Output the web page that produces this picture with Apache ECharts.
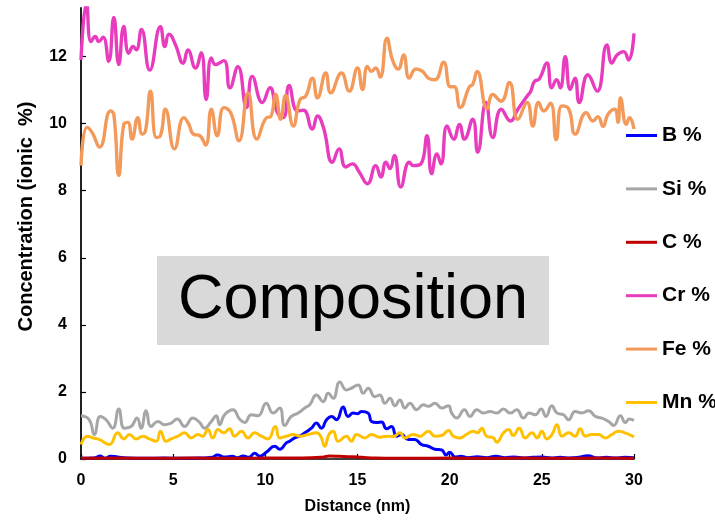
<!DOCTYPE html>
<html>
<head>
<meta charset="utf-8">
<script src="https://cdn.jsdelivr.net/npm/echarts@6/dist/echarts.min.js"></script>
<style>
  html, body { margin: 0; padding: 0; background: #fff; }
  #chart { width: 715px; height: 520px; }
</style>
</head>
<body>
<div id="chart"></div>
<script>
// ---- data ----
const seriesNames = ['B %', 'Si %', 'C %', 'Cr %', 'Fe %', 'Mn %'];
const xTicks = [0, 5, 10, 15, 20, 25, 30];
const yTicks = [0, 2, 4, 6, 8, 10, 12];

const bX = [0,0.7,1.05,1.3,1.6,2.5,3.5,4.5,5.5,6.5,7.1,7.4,7.8,8.2,8.5,8.8,9.1,9.42,9.7,10.05,10.51,10.78,11.14,11.32,11.59,11.86,12.14,12.5,12.77,13.04,13.32,13.59,13.86,14.22,14.49,14.77,15.0,15.22,15.58,15.76,16.03,16.3,16.58,16.85,17.12,17.39,17.75,18.1,18.48,18.84,19.2,19.57,19.8,20.0,20.3,20.6,21.0,21.5,22.0,22.5,23.0,23.5,24.0,24.5,25.0,25.5,26.0,26.5,27.0,27.5,28.0,28.5,29.0,29.5,30.0];
const bY = [0.02,0.03,0.09,0.02,0.08,0.03,0.02,0.03,0.02,0.03,0.05,0.12,0.06,0.08,0.04,0.09,0.05,0.17,0.08,0.2,0.38,0.29,0.48,0.53,0.63,0.68,0.78,0.92,1.07,0.92,1.17,1.27,1.17,1.55,1.27,1.37,1.35,1.42,1.37,1.12,1.09,1.1,0.9,0.97,0.68,0.73,0.58,0.58,0.43,0.38,0.29,0.27,0.12,0.2,0.06,0.08,0.04,0.07,0.04,0.08,0.04,0.06,0.03,0.05,0.06,0.03,0.05,0.03,0.05,0.1,0.03,0.05,0.03,0.05,0.04];

const siX = [0,0.45,0.72,1.05,1.36,1.72,2.05,2.35,2.72,3.04,3.26,3.53,3.8,4.17,4.53,4.89,5.22,5.62,6.07,6.43,6.7,7.07,7.34,7.52,7.79,8.24,8.6,8.88,9.24,9.6,10.05,10.42,10.78,11.05,11.41,11.78,12.14,12.41,12.77,13.14,13.41,13.68,14.04,14.4,14.67,15.04,15.31,15.58,15.94,16.21,16.49,16.76,17.03,17.3,17.57,17.84,18.21,18.57,18.84,19.2,19.57,19.93,20.11,20.38,20.8,21.1,21.47,21.83,22.19,22.55,22.92,23.28,23.64,24.0,24.31,24.64,24.96,25.22,25.54,25.82,26.18,26.45,26.81,27.17,27.54,27.9,28.26,28.62,28.9,29.26,29.53,29.74,30.0];
const siY = [1.29,1.17,0.73,1.27,1.17,0.92,1.49,0.92,0.97,1.22,0.92,1.44,0.97,1.12,1.02,1.07,1.19,0.97,1.22,1.09,0.92,1.12,1.29,1.02,1.32,1.47,1.19,1.09,1.32,1.29,1.66,1.37,1.52,1.0,1.27,1.37,1.52,1.62,1.91,1.71,1.96,1.81,2.3,2.06,2.11,2.21,1.96,2.11,1.86,1.91,1.66,1.81,1.59,1.76,1.52,1.66,1.47,1.62,1.57,1.66,1.52,1.59,1.37,1.22,1.47,1.27,1.47,1.37,1.42,1.37,1.49,1.37,1.47,1.22,1.37,1.32,1.49,1.27,1.59,1.37,1.32,1.17,1.42,1.37,1.44,1.27,1.22,1.12,1.0,1.29,1.09,1.19,1.15];

const cX = [0,2,4,6,8,10,12,13,13.5,14,14.5,15,15.5,16,18,20,22,24,26,28,30];
const cY = [0.02,0.03,0.02,0.03,0.02,0.03,0.03,0.05,0.09,0.08,0.07,0.06,0.04,0.03,0.02,0.03,0.02,0.03,0.02,0.03,0.02];

const crX = [0,0.3,0.54,0.78,0.96,1.2,1.5,1.78,2.05,2.32,2.59,2.83,3.0,3.28,3.73,4.31,4.55,4.77,5.13,5.54,5.8,6.21,6.52,6.79,7.07,7.3,7.75,8.08,8.51,8.98,9.29,9.84,10.25,10.65,10.98,11.29,11.74,12.07,12.55,12.83,13.15,13.64,14.0,14.36,14.73,15.09,15.54,15.99,16.27,16.54,16.76,17.0,17.35,17.81,18.04,18.44,18.77,19.02,19.31,19.53,19.86,20.22,20.53,20.8,21.25,21.52,21.97,22.34,22.8,23.3,23.7,24.2,24.4,24.6,24.86,25.27,25.54,25.8,26.0,26.27,26.54,26.8,27.03,27.5,28.0,28.53,28.8,29.08,29.44,29.7,30.0];
const crY = [11.9,13.6,12.45,12.6,12.45,12.58,11.86,13.17,11.76,12.9,12.1,12.3,12.2,12.81,11.6,12.89,12.3,12.67,12.35,11.8,12.2,11.66,12.12,10.72,11.96,11.76,11.88,11.07,11.7,10.48,11.41,10.63,11.07,10.33,10.18,11.14,10.38,10.4,9.84,10.23,9.89,8.85,9.25,8.71,8.8,8.56,8.21,8.75,8.41,8.85,8.66,9.05,8.11,8.85,8.75,8.8,9.64,8.51,9.1,8.8,9.93,9.54,9.98,9.54,10.13,9.15,10.63,9.59,10.43,10.08,10.43,10.82,10.97,11.26,11.33,11.81,11.07,11.31,11.07,12.0,11.02,11.36,10.63,11.46,10.97,12.35,11.81,12.05,12.15,11.9,12.69];

const feX = [0,0.33,0.6,1.01,1.6,1.78,2.05,2.32,2.54,2.77,3.08,3.32,3.5,3.77,4.09,4.31,4.58,5.07,5.58,5.85,6.09,6.45,6.76,7.07,7.39,7.75,8.12,8.57,9.06,9.54,10.07,10.29,10.56,10.83,11.1,11.52,11.88,12.19,12.55,12.83,13.28,13.55,14.13,14.55,15.0,15.27,15.54,15.76,15.99,16.23,16.6,16.9,17.21,17.5,17.81,18.17,18.53,18.84,19.2,19.67,20.04,20.25,20.58,21.07,21.25,21.49,22.03,22.34,22.79,23.24,23.7,24.2,24.51,24.82,25.11,25.47,25.78,26.09,26.45,26.81,27.41,27.77,28.04,28.32,28.59,28.95,29.13,29.27,29.58,29.76,30.0];
const feY = [8.75,9.89,9.74,9.3,10.38,10.28,8.46,9.98,10.04,9.54,10.18,9.69,9.79,10.97,9.59,9.64,10.43,9.25,10.18,9.98,9.69,9.64,9.36,10.43,9.64,10.48,10.33,9.49,10.92,9.54,10.18,10.21,10.87,10.13,10.84,9.93,10.72,10.82,11.36,10.77,11.51,10.92,11.51,10.97,11.66,11.02,11.71,11.56,11.66,11.39,12.55,11.9,11.63,12.05,11.36,11.63,11.56,11.36,11.31,11.83,11.1,11.1,10.48,11.1,11.17,11.56,10.45,10.87,10.67,11.23,10.13,10.63,9.93,10.63,10.38,10.61,9.52,10.53,10.45,9.69,10.33,10.08,10.21,9.92,10.28,10.43,10.04,10.77,9.98,10.18,9.84];

const mnX = [0,0.36,0.63,1.0,1.54,1.99,2.32,2.63,2.99,3.35,3.71,4.08,4.31,4.62,4.89,5.25,5.62,5.98,6.34,6.6,6.88,7.15,7.43,7.75,8.06,8.33,8.7,9.06,9.42,9.78,10.14,10.54,10.78,11.14,11.5,11.9,12.32,12.77,13.0,13.22,13.45,13.68,13.95,14.4,14.67,14.95,15.4,15.76,16.2,16.58,16.95,17.3,17.57,18.02,18.4,18.84,19.2,19.57,19.93,20.2,20.56,20.9,21.29,21.5,21.74,22.0,22.37,22.55,22.92,23.19,23.45,23.77,24.1,24.46,24.75,25.0,25.27,25.55,25.82,26.09,26.45,26.8,27.08,27.36,27.7,28.08,28.44,28.8,29.17,29.5,29.75,30.0];
const mnY = [0.43,0.68,0.63,0.58,0.43,0.78,0.6,0.73,0.6,0.68,0.6,0.53,0.83,0.53,0.6,0.68,0.78,0.63,0.73,0.68,0.88,0.63,0.88,0.78,0.9,0.68,0.83,0.63,0.78,0.68,0.6,0.97,0.63,0.68,0.73,0.68,0.73,0.78,0.68,0.38,0.73,0.83,0.53,0.68,0.53,0.73,0.63,0.73,0.65,0.68,0.67,0.78,0.63,0.73,0.68,0.83,0.68,0.7,0.85,0.68,0.63,0.73,0.83,0.78,0.92,0.68,0.63,0.5,0.78,0.88,0.7,0.92,0.63,0.78,0.63,0.83,0.6,0.73,1.02,0.68,0.78,0.68,0.9,0.68,0.73,0.73,0.63,0.73,0.83,0.78,0.73,0.66];

// ---- styling ----
const colors = ['#0000ff', '#a6a6a6', '#c00000', '#e83cbf', '#f39a5b', '#ffc000'];
const FONT = '"Liberation Sans", Arial, sans-serif';

function zip(xs, ys) {
  const n = Math.min(xs.length, ys.length);
  const out = [];
  for (let i = 0; i < n; i++) out.push([xs[i], ys[i]]);
  return out;
}
const seriesData = [zip(bX, bY), zip(siX, siY), zip(cX, cY), zip(crX, crY), zip(feX, feY), zip(mnX, mnY)];

const chart = echarts.init(document.getElementById('chart'), null, { renderer: 'canvas' });
chart.setOption({
  animation: false,
  backgroundColor: '#fff',
  grid: { left: 81, right: 81, top: 8, bottom: 56.5, containLabel: false },
  xAxis: {
    type: 'value', min: 0, max: 30, interval: 5,
    name: 'Distance (nm)', nameLocation: 'middle', nameGap: 40,
    nameTextStyle: { fontFamily: FONT, fontWeight: 'bold', fontSize: 16, color: '#000' },
    axisLine: { show: true, onZero: false, lineStyle: { color: '#000', width: 1.5 } },
    axisTick: { show: true, inside: true, length: 5, lineStyle: { color: '#000', width: 1.2 } },
    axisLabel: { fontFamily: FONT, fontWeight: 'bold', fontSize: 16, color: '#000', margin: 14, customValues: xTicks },
    splitLine: { show: false }
  },
  yAxis: {
    type: 'value', min: 0, max: 13.45, interval: 2,
    name: 'Concentration (ionic  %)', nameLocation: 'middle', nameGap: 45, nameRotate: 90,
    nameTextStyle: { fontFamily: FONT, fontWeight: 'bold', fontSize: 20, color: '#000', padding: [0, 0, 0, 34] },
    axisLine: { show: true, lineStyle: { color: '#222', width: 2 } },
    axisTick: { show: true, inside: true, length: 5, lineStyle: { color: '#000', width: 1.2 }, customValues: yTicks },
    axisLabel: { fontFamily: FONT, fontWeight: 'bold', fontSize: 16, color: '#000', margin: 14, customValues: yTicks },
    splitLine: { show: false }
  },
  legend: {
    orient: 'vertical', left: 621, top: 120,
    icon: 'rect', itemWidth: 31, itemHeight: 3, itemGap: 32.4,
    data: seriesNames,
    textStyle: { fontFamily: FONT, fontWeight: 'bold', fontSize: 21, color: '#000' }
  },
  graphic: [
    { type: 'rect', left: 157, top: 256, shape: { width: 392, height: 89 }, style: { fill: '#d9d9d9' }, z: 100 },
    { type: 'text', x: 353, y: 301, z: 101,
      style: { text: 'Composition', font: '63px "Liberation Sans", Arial, sans-serif', fill: '#000', align: 'center', verticalAlign: 'middle' } }
  ],
  series: seriesNames.map((name, i) => ({
    name: name,
    type: 'line',
    data: seriesData[i],
    smooth: 0.5,
    symbol: 'none',
    clip: true,
    color: colors[i],
    lineStyle: { color: colors[i], width: i >= 3 && i <= 4 ? 3.4 : 3 },
    z: 2 + i
  }))
});
</script>
</body>
</html>
